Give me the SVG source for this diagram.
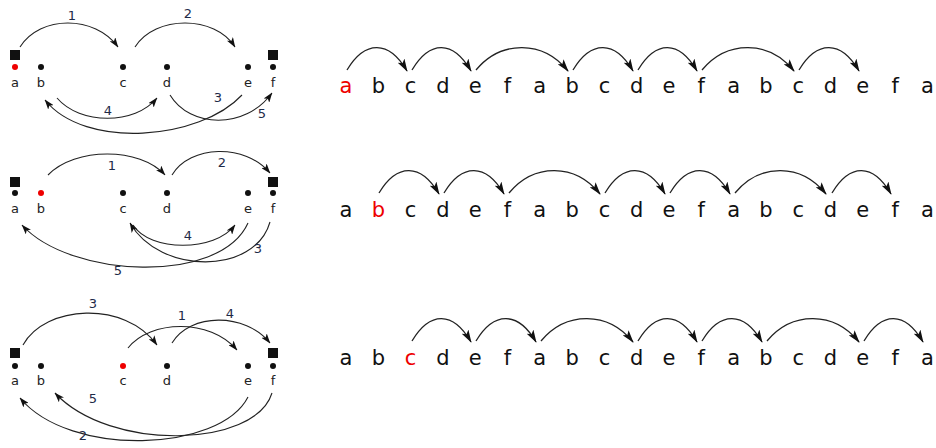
<svg xmlns="http://www.w3.org/2000/svg" width="936" height="448" viewBox="0 0 936 448">
<defs>
<style>
.bg{fill:#fff}
.arcR{fill:none;stroke:#222;stroke-width:1.3;marker-end:url(#ahR)}
.arcL{fill:none;stroke:#222;stroke-width:1.1;marker-end:url(#ahL)}
.dot{fill:#111}
.red{fill:#e00}
.sq{fill:#111}
.lbl{font-family:"DejaVu Sans","Liberation Sans",sans-serif;font-size:13px;fill:#222;text-anchor:middle}
.num{font-family:"DejaVu Sans","Liberation Sans",sans-serif;font-size:13px;fill:#1e2a48;text-anchor:middle}
.seq{font-family:"DejaVu Sans","Liberation Sans",sans-serif;font-size:21px;fill:#111;text-anchor:middle}
.seq .r{fill:#e00}
</style>
<marker id="ahR" viewBox="0 0 13 8" refX="12" refY="4" markerWidth="13" markerHeight="8" markerUnits="userSpaceOnUse" orient="auto"><path d="M0,0 L13,4 L0,8 L3,4 z" fill="#111"/></marker>
<marker id="ahL" viewBox="0 0 10 7" refX="9.5" refY="3.5" markerWidth="10" markerHeight="7" markerUnits="userSpaceOnUse" orient="auto"><path d="M0,0 L10,3.5 L0,7 L2.5,3.5 z" fill="#111"/></marker>
</defs>
<rect class="bg" x="0" y="0" width="936" height="448"/>

<!-- Graph 1 -->
<g id="graph1">
<g id="g1-nodes">
<rect class="sq" x="10" y="50" width="10" height="10"/>
<rect class="sq" x="268" y="50" width="10" height="10"/>
<circle class="red" cx="15" cy="67" r="3"/>
<circle class="dot" cx="41" cy="67" r="3"/>
<circle class="dot" cx="123" cy="67" r="3"/>
<circle class="dot" cx="167" cy="67" r="3"/>
<circle class="dot" cx="248" cy="67" r="3"/>
<circle class="dot" cx="273" cy="67" r="3"/>
<text class="lbl" x="15" y="87">a</text>
<text class="lbl" x="41" y="87">b</text>
<text class="lbl" x="123" y="87">c</text>
<text class="lbl" x="167" y="87">d</text>
<text class="lbl" x="248" y="87">e</text>
<text class="lbl" x="273" y="87">f</text>
</g>
<g id="g1-connectors">
<path class="arcL" d="M20,47 C40,15 95,15 118,47"/>
<path class="arcL" d="M135,47 C155,15 215,15 235,47"/>
<path class="arcL" d="M242,95 C200,140 85,150 45,100"/>
<path class="arcL" d="M57,98 C80,125 135,125 157,98"/>
<path class="arcL" d="M170,95 C190,128 245,130 272,93"/>
<text class="num" x="72" y="20">1</text>
<text class="num" x="188" y="18">2</text>
<text class="num" x="218" y="102">3</text>
<text class="num" x="108" y="115">4</text>
<text class="num" x="262" y="118">5</text>
</g>
</g>

<!-- Graph 2 -->
<g id="graph2">
<g id="g2-nodes">
<rect class="sq" x="10" y="177" width="10" height="10"/>
<rect class="sq" x="268" y="177" width="10" height="10"/>
<circle class="dot" cx="15" cy="193" r="3"/>
<circle class="red" cx="41" cy="193" r="3"/>
<circle class="dot" cx="123" cy="193" r="3"/>
<circle class="dot" cx="167" cy="193" r="3"/>
<circle class="dot" cx="248" cy="193" r="3"/>
<circle class="dot" cx="273" cy="193" r="3"/>
<text class="lbl" x="15" y="213">a</text>
<text class="lbl" x="41" y="213">b</text>
<text class="lbl" x="123" y="213">c</text>
<text class="lbl" x="167" y="213">d</text>
<text class="lbl" x="248" y="213">e</text>
<text class="lbl" x="273" y="213">f</text>
</g>
<g id="g2-connectors">
<path class="arcL" d="M48,175 C75,147 140,147 165,175"/>
<path class="arcL" d="M172,175 C190,145 245,143 270,173"/>
<path class="arcL" d="M270,222 C255,275 160,275 130,223"/>
<path class="arcL" d="M133,225 C150,252 215,252 235,225"/>
<path class="arcL" d="M248,223 C220,285 70,278 22,225"/>
<text class="num" x="112" y="170">1</text>
<text class="num" x="222" y="167">2</text>
<text class="num" x="258" y="253">3</text>
<text class="num" x="188" y="240">4</text>
<text class="num" x="118" y="275">5</text>
</g>
</g>

<!-- Graph 3 -->
<g id="graph3">
<g id="g3-nodes">
<rect class="sq" x="10" y="348" width="10" height="10"/>
<rect class="sq" x="268" y="348" width="10" height="10"/>
<circle class="dot" cx="15" cy="366" r="3"/>
<circle class="dot" cx="41" cy="366" r="3"/>
<circle class="red" cx="123" cy="366" r="3"/>
<circle class="dot" cx="167" cy="366" r="3"/>
<circle class="dot" cx="248" cy="366" r="3"/>
<circle class="dot" cx="273" cy="366" r="3"/>
<text class="lbl" x="15" y="385">a</text>
<text class="lbl" x="41" y="385">b</text>
<text class="lbl" x="123" y="385">c</text>
<text class="lbl" x="167" y="385">d</text>
<text class="lbl" x="248" y="385">e</text>
<text class="lbl" x="273" y="385">f</text>
</g>
<g id="g3-connectors">
<path class="arcL" d="M23,345 C45,305 125,300 157,345"/>
<path class="arcL" d="M128,348 C150,320 210,318 237,350"/>
<path class="arcL" d="M172,343 C190,313 245,312 270,343"/>
<path class="arcL" d="M272,393 C255,448 110,452 55,393"/>
<path class="arcL" d="M248,397 C220,452 70,458 20,398"/>
<text class="num" x="93" y="308">3</text>
<text class="num" x="182" y="320">1</text>
<text class="num" x="230" y="318">4</text>
<text class="num" x="93" y="403">5</text>
<text class="num" x="83" y="440">2</text>
</g>
</g>

<!-- Sequence 1 -->
<g id="seq1">
<text class="seq" y="93"><tspan class="r" x="346">a</tspan><tspan x="378.3">b</tspan><tspan x="410.6">c</tspan><tspan x="442.9">d</tspan><tspan x="475.2">e</tspan><tspan x="507.5">f</tspan><tspan x="539.8">a</tspan><tspan x="572.1">b</tspan><tspan x="604.4">c</tspan><tspan x="636.7">d</tspan><tspan x="669">e</tspan><tspan x="701.3">f</tspan><tspan x="733.6">a</tspan><tspan x="765.9">b</tspan><tspan x="798.2">c</tspan><tspan x="830.5">d</tspan><tspan x="862.8">e</tspan><tspan x="895.1">f</tspan><tspan x="927.4">a</tspan></text>
</g>
<g id="seq1-connectors">
<path class="arcR" d="M347,70 C365,40 389,40 407,71"/>
<path class="arcR" d="M412,70 C430,40 453,40 471,71"/>
<path class="arcR" d="M476,70 C501,40 543,40 568,71"/>
<path class="arcR" d="M573,70 C591,40 615,40 633,71"/>
<path class="arcR" d="M638,70 C656,40 679,40 697,71"/>
<path class="arcR" d="M702,70 C727,40 769,40 794,71"/>
<path class="arcR" d="M799,70 C817,40 841,40 859,71"/>
</g>

<!-- Sequence 2 -->
<g id="seq2">
<text class="seq" y="217"><tspan x="346">a</tspan><tspan class="r" x="378.3">b</tspan><tspan x="410.6">c</tspan><tspan x="442.9">d</tspan><tspan x="475.2">e</tspan><tspan x="507.5">f</tspan><tspan x="539.8">a</tspan><tspan x="572.1">b</tspan><tspan x="604.4">c</tspan><tspan x="636.7">d</tspan><tspan x="669">e</tspan><tspan x="701.3">f</tspan><tspan x="733.6">a</tspan><tspan x="765.9">b</tspan><tspan x="798.2">c</tspan><tspan x="830.5">d</tspan><tspan x="862.8">e</tspan><tspan x="895.1">f</tspan><tspan x="927.4">a</tspan></text>
</g>
<g id="seq2-connectors">
<path class="arcR" d="M379,193 C397,163 421,163 439,194"/>
<path class="arcR" d="M444,193 C462,163 486,163 504,194"/>
<path class="arcR" d="M509,193 C534,163 575,163 600,194"/>
<path class="arcR" d="M605,193 C623,163 647,163 665,194"/>
<path class="arcR" d="M670,193 C688,163 712,163 730,194"/>
<path class="arcR" d="M735,193 C760,163 801,163 826,194"/>
<path class="arcR" d="M832,193 C850,163 873,163 891,194"/>
</g>

<!-- Sequence 3 -->
<g id="seq3">
<text class="seq" y="365"><tspan x="346">a</tspan><tspan x="378.3">b</tspan><tspan class="r" x="410.6">c</tspan><tspan x="442.9">d</tspan><tspan x="475.2">e</tspan><tspan x="507.5">f</tspan><tspan x="539.8">a</tspan><tspan x="572.1">b</tspan><tspan x="604.4">c</tspan><tspan x="636.7">d</tspan><tspan x="669">e</tspan><tspan x="701.3">f</tspan><tspan x="733.6">a</tspan><tspan x="765.9">b</tspan><tspan x="798.2">c</tspan><tspan x="830.5">d</tspan><tspan x="862.8">e</tspan><tspan x="895.1">f</tspan><tspan x="927.4">a</tspan></text>
</g>
<g id="seq3-connectors">
<path class="arcR" d="M412,341 C430,311 453,311 471,342"/>
<path class="arcR" d="M476,341 C494,311 518,311 536,342"/>
<path class="arcR" d="M541,341 C566,311 608,311 633,342"/>
<path class="arcR" d="M638,341 C656,311 679,311 697,342"/>
<path class="arcR" d="M702,341 C720,311 744,311 762,342"/>
<path class="arcR" d="M767,341 C792,311 834,311 859,342"/>
<path class="arcR" d="M864,341 C882,311 905,311 923,342"/>
</g>
</svg>
